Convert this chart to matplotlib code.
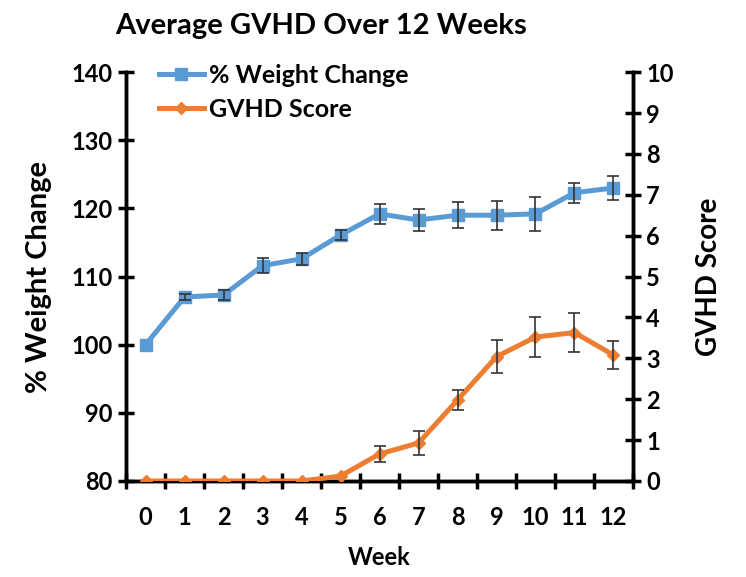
import numpy as np
import matplotlib
matplotlib.use('Agg')
import matplotlib.pyplot as plt

plt.rcParams['font.family'] = ['Lato', 'DejaVu Sans']
plt.rcParams['font.weight'] = 'bold'

# Dados
weeks = list(range(13))
weight = [100.0, 107.0, 107.3, 111.6, 112.6, 116.1, 119.2, 118.3, 119.0, 119.0, 119.2, 122.3, 123.0]
weight_err = [0.0, 0.4, 0.8, 1.1, 0.9, 0.7, 1.5, 1.6, 1.9, 2.1, 2.5, 1.5, 1.7]
gvhd = [0.0, 0.0, 0.0, 0.0, 0.0, 0.12, 0.66, 0.93, 1.98, 3.04, 3.52, 3.63, 3.08]
gvhd_err = [0.0, 0.0, 0.0, 0.0, 0.0, 0.0, 0.2, 0.3, 0.25, 0.41, 0.48, 0.48, 0.34]

blue = '#5B9BD5'
orange = '#ED7D31'

fig, ax = plt.subplots(figsize=(7.46, 5.77), dpi=100)
fig.subplots_adjust(left=0.169, right=0.8485, top=0.875, bottom=0.1664)
ax2 = ax.twinx()

# Linhas principais
l1, = ax.plot(weeks, weight, color=blue, lw=3.6, marker='s', ms=8, zorder=3,
              label='% Weight Change')
l2, = ax2.plot(weeks, gvhd, color=orange, lw=3.6, marker='D', ms=6, zorder=3,
               label='GVHD Score')

# Barras de erro (apenas onde existe erro)
def error_bars(a, x, y, err):
    idx = [i for i, e in enumerate(err) if e > 0]
    a.errorbar([x[i] for i in idx], [y[i] for i in idx], yerr=[err[i] for i in idx],
               fmt='none', ecolor='#333333', elinewidth=1.2, capsize=4, capthick=1.2,
               zorder=4)

error_bars(ax, weeks, weight, weight_err)
error_bars(ax2, weeks, gvhd, gvhd_err)

ax.set_xlim(-0.5, 12.5)
ax.set_ylim(80, 140)
ax2.set_ylim(0, 10)
# eixo de categorias: marcas entre as categorias, rótulos no centro
ax.set_xticks(weeks)
ax.set_xticks(np.arange(-0.5, 13, 1), minor=True)
ax.set_yticks(np.arange(80, 141, 10))
ax2.set_yticks(np.arange(0, 11, 1))

for a in (ax, ax2):
    for s in a.spines.values():
        s.set_linewidth(2.5)
    a.tick_params(direction='inout', length=12, width=2.5, labelsize=17)
ax.spines['top'].set_visible(False)
ax2.spines['top'].set_visible(False)
ax.tick_params(axis='x', which='major', length=0, pad=18)
ax.tick_params(axis='x', which='minor', direction='inout', length=12, width=2.5)

fig.text(321 / 746, 0.955, 'Average GVHD Over 12 Weeks', fontsize=21, fontweight='bold',
         ha='center', va='center')
ax.set_xlabel('Week', fontsize=17, fontweight='bold', labelpad=12)
ax.set_ylabel('% Weight Change', fontsize=21, fontweight='bold', labelpad=14)
ax2.set_ylabel('GVHD Score', fontsize=20, fontweight='bold', labelpad=16)

ax.legend([l1, l2], ['% Weight Change', 'GVHD Score'], loc='upper left',
          bbox_to_anchor=(0.02, 1.075), frameon=False, fontsize=18, handlelength=1.8,
          handletextpad=0.2, labelspacing=0.45)

plt.savefig('out.png', dpi=100)
